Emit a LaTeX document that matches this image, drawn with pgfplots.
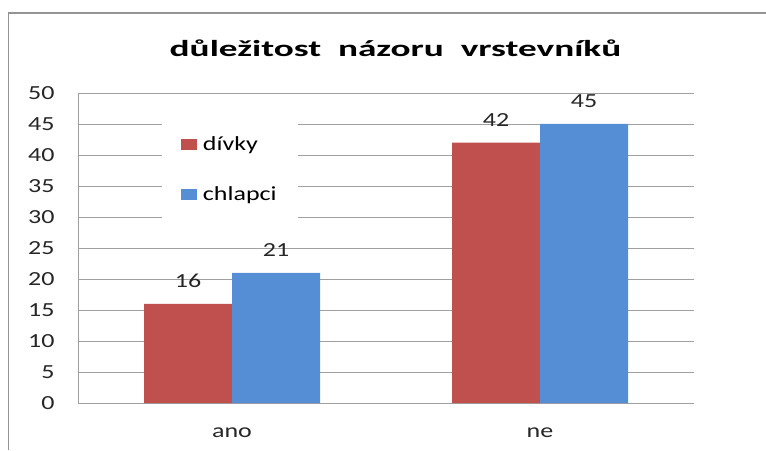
\documentclass[border=0pt]{standalone}
\usepackage{pgfplots}
\pgfplotsset{compat=1.18}
\usepackage{fontspec}
\setmainfont{Carlito}[FakeStretch=1.3]
\newfontfamily\titlefont{Carlito}[FakeStretch=1.62]
\definecolor{cred}{HTML}{C0504D}
\definecolor{cblue}{HTML}{558ED5}
\definecolor{cgrid}{HTML}{A0A0A0}
\begin{document}
\begin{tikzpicture}
\useasboundingbox (0pt,0pt) rectangle (766pt,450pt);
\draw[color=gray!85, line width=1.3pt] (8.5pt,0pt) -- (8.5pt,437pt) -- (766pt,437pt);
\node[anchor=base, font=\titlefont\fontsize{23}{27}\selectfont\bfseries] at (395.5pt,393pt) {důležitost\ \ názoru\ \ vrstevníků};
\begin{axis}[
  at={(78pt,47pt)}, anchor=south west,
  scale only axis, width=616pt, height=310pt,
  ybar=0pt, bar width=88pt,
  xmin=-0.5, xmax=1.5, ymin=0, ymax=50,
  xtick={0,1}, xticklabels={ano,ne},
  ytick={0,5,...,50},
  ymajorgrids, grid style={cgrid, line width=0.8pt},
  axis x line*=bottom, axis y line*=left,
  axis line style={cgrid, line width=0.8pt},
  major tick length=0pt,
  /pgf/number format/assume math mode=true,
  tick label style={font=\fontsize{20}{24}\selectfont, text=black!85},
  yticklabel style={anchor=east, xshift=-20pt},
  xticklabel style={yshift=-21pt},
  nodes near coords,
  every node near coord/.append style={font=\fontsize{20}{24}\selectfont, text=black!85, yshift=13pt},
  legend style={at={(rel axis cs:0.136,0.924)}, anchor=north west, draw=none, fill=white,
     font=\fontsize{20}{24}\selectfont, row sep=30.5pt, inner xsep=19pt, inner ysep=18pt},
  legend cell align=left,
  legend image code/.code={\fill[#1] (0pt,-5.5pt) rectangle (16pt,5.5pt); \path (20pt,0pt);},
]
\addplot[fill=cred, draw=none] coordinates {(0,16) (1,42)};
\addplot[fill=cblue, draw=none] coordinates {(0,21) (1,45)};
\legend{dívky,chlapci}
\end{axis}
\end{tikzpicture}
\end{document}
